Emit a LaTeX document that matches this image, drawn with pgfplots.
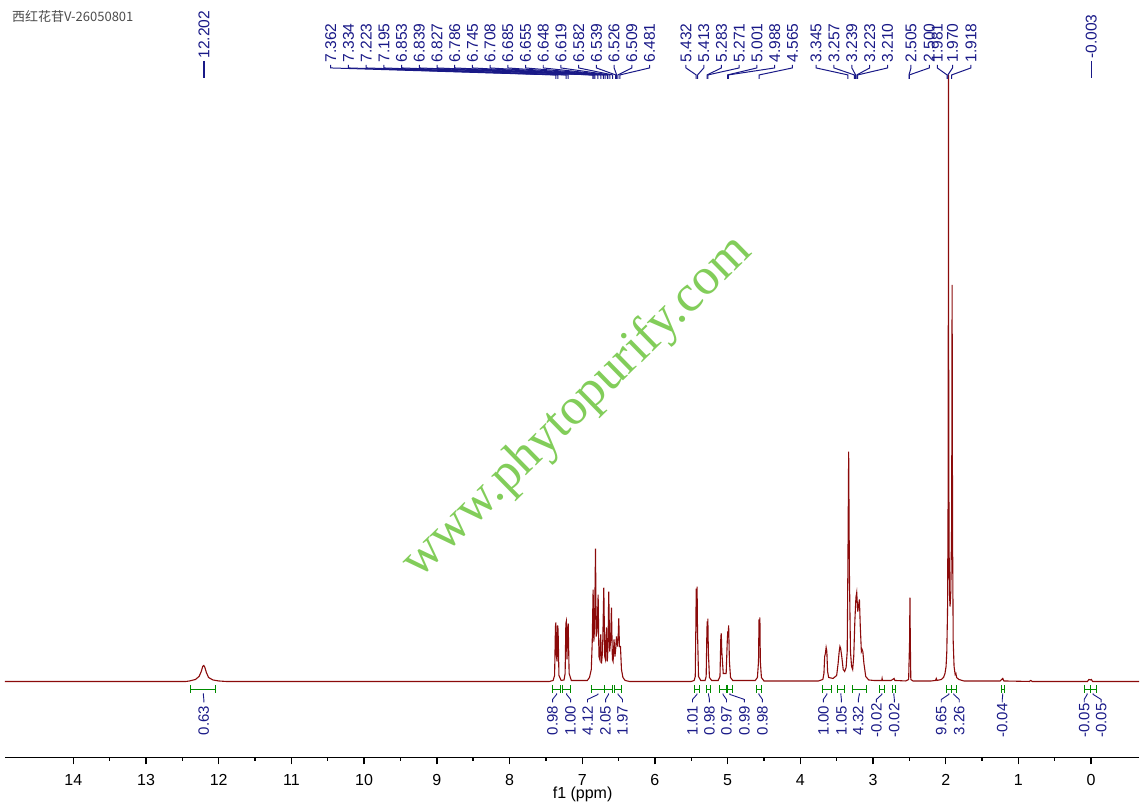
\documentclass[border=0pt]{standalone}
\usepackage{fontspec}
\setmainfont{Liberation Sans}
\newfontfamily\cjk{Noto Sans CJK SC}
\newfontfamily\wmfont{Liberation Serif}
\usepackage{pgfplots}
\pgfplotsset{compat=1.18}
\definecolor{specred}{RGB}{139,10,10}
\definecolor{lblue}{RGB}{25,25,135}
\definecolor{intgreen}{RGB}{0,140,0}
\definecolor{wmgreen}{RGB}{130,205,90}

\begin{document}
\begin{tikzpicture}
\begin{axis}[
  scale only axis, width=567.5pt, height=379pt,
  xmin=-0.66, xmax=14.94, ymin=-76, ymax=682,
  x dir=reverse,
  axis x line*=bottom, axis y line=none,
  xtick={0,1,...,14}, minor x tick num=1,
  tick align=outside, major tick length=3.5pt, minor tick length=1.8pt,
  x axis line style={line width=0.9pt},
  every tick/.style={black, line width=0.7pt},
  xticklabel style={font=\fontsize{8}{9}\selectfont, yshift=-1.5pt},
  /pgf/number format/assume math mode=true,
  clip=false,
]
% watermark
\node[wmgreen, rotate=44.4, font=\wmfont\fontsize{26}{28}\selectfont] at (axis cs:7.064,274) {www.phytopurify.com};

% spectrum
\addplot[specred, line width=0.55pt, mark=none] coordinates {
(14.94,0) (12.45,0) (12.40,0.5) (12.32,2) (12.27,5) (12.24,10) (12.22,15) (12.205,16) (12.19,14) (12.17,9) (12.14,4) (12.08,1.5) (12.0,0.5) (11.9,0)
(7.45,0) (7.40,1) (7.38,6) (7.368,55) (7.362,59) (7.355,25) (7.345,20) (7.338,56) (7.332,52) (7.32,6) (7.29,1)
(7.25,1.5) (7.235,8) (7.225,58) (7.219,60) (7.21,22) (7.20,54) (7.193,58) (7.18,8) (7.15,1)
(6.93,1) (6.90,4) (6.875,12) (6.862,40) (6.850,92) (6.840,40) (6.830,55) (6.817,133) (6.808,45) (6.795,50) (6.781,87)
(6.770,25) (6.758,22) (6.745,47) (6.735,18) (6.720,30) (6.703,94) (6.690,25) (6.680,22) (6.667,54) (6.655,20)
(6.645,35) (6.635,90) (6.622,30) (6.610,40) (6.598,74) (6.585,22) (6.575,20) (6.562,42) (6.550,25) (6.540,32)
(6.529,45) (6.515,35) (6.505,45) (6.497,63) (6.488,35) (6.474,35) (6.46,12) (6.44,4) (6.41,1) (6.35,0)
(5.50,0) (5.46,1) (5.445,5) (5.436,60) (5.432,93) (5.426,55) (5.420,95) (5.414,50) (5.40,5) (5.37,1)
(5.31,1) (5.295,5) (5.285,50) (5.281,60) (5.276,40) (5.272,63) (5.265,30) (5.25,4) (5.22,1)
(5.13,1) (5.105,5) (5.093,45) (5.087,48) (5.08,30) (5.06,8) (5.02,8) (5.005,40) (4.998,50) (4.992,45) (4.986,56) (4.975,20) (4.96,4) (4.93,1)
(4.62,1) (4.59,4) (4.575,20) (4.568,62) (4.562,50) (4.556,64) (4.55,20) (4.535,4) (4.50,0.5)
(3.75,0.5) (3.69,2) (3.675,8) (3.665,25) (3.655,28) (3.645,34) (3.635,30) (3.625,10) (3.61,4) (3.55,3)
(3.50,6) (3.48,18) (3.465,30) (3.455,35) (3.445,33) (3.43,25) (3.41,12) (3.39,10) (3.37,14) (3.355,30)
(3.345,120) (3.335,230) (3.325,110) (3.31,30) (3.295,15) (3.28,12) (3.265,25) (3.25,60) (3.235,84) (3.224,89)
(3.21,70) (3.195,78) (3.187,82) (3.175,55) (3.16,30) (3.15,32) (3.14,30) (3.125,18) (3.10,5) (3.06,1.5) (2.99,1)
(2.95,1) (2.88,1) (2.875,3) (2.87,1) (2.75,1) (2.71,3) (2.70,1) (2.55,0.5) (2.51,2) (2.497,40) (2.492,84) (2.487,40) (2.48,2) (2.45,0.5)
(2.20,0.5) (2.14,1) (2.13,3) (2.12,1) (2.06,2) (2.03,4) (2.01,8) (1.995,15) (1.985,30) (1.975,70) (1.966,200) (1.962,607) (1.958,220)
(1.950,90) (1.940,75) (1.930,90) (1.918,160) (1.912,397) (1.906,150) (1.897,40) (1.885,15) (1.87,7) (1.86,8) (1.85,4) (1.82,2) (1.75,0.5)
(1.25,0.5) (1.215,3) (1.20,0.5) (0.85,0) (0.83,1) (0.81,0) (0.05,0) (0.03,2) (0.01,1.5) (-0.003,2) (-0.02,0) (-0.66,0)
};

% title
\node[anchor=west, gray!60!black, font=\cjk\fontsize{6.5}{7}\selectfont] at (axis cs:14.94,665) {西红花苷V-26050801};

% single peak labels
\foreach \v in {12.202,-0.003}{
  \edef\tmp{\noexpand\draw[lblue, line width=0.6pt] (axis cs:\v,621) -- (axis cs:\v,604);
    \noexpand\node[lblue, rotate=90, anchor=west, inner sep=0pt, font=\noexpand\fontsize{7.8}{8}\noexpand\selectfont] at (axis cs:\v,623) {\v};}
  \tmp
}
% grouped peak labels
\foreach \v/\l in {7.362/10.459, 7.334/10.215, 7.223/9.972, 7.195/9.728, 6.853/9.485, 6.839/9.241, 6.827/8.997,
  6.786/8.754, 6.745/8.510, 6.708/8.267, 6.685/8.023, 6.655/7.779, 6.648/7.536, 6.619/7.292, 6.582/7.049,
  6.539/6.805, 6.526/6.561, 6.509/6.318, 6.481/6.074,
  5.432/5.573, 5.413/5.328, 5.283/5.085, 5.271/4.841, 5.001/4.597, 4.988/4.352, 4.565/4.109,
  3.345/3.783, 3.257/3.537, 3.239/3.291, 3.223/3.045, 3.210/2.799,
  2.505/2.478, 2.500/2.226, 1.981/2.116, 1.970/1.906, 1.918/1.653}{
  \edef\tmp{\noexpand\draw[lblue, line width=0.5pt] (axis cs:\l,617) -- (axis cs:\l,614) -- (axis cs:\v,607) -- (axis cs:\v,603);
    \noexpand\node[lblue, rotate=90, anchor=west, inner sep=0pt, font=\noexpand\fontsize{7.8}{8}\noexpand\selectfont] at (axis cs:\l,619) {\v};}
  \tmp
}
% integrals
\foreach \a/\b/\l/\t in {12.383/12.040/12.205/0.63, 7.408/7.298/7.408/0.98, 7.270/7.160/7.160/1.00,
  6.872/6.693/6.927/4.12, 6.693/6.583/6.679/2.05, 6.556/6.459/6.446/1.97,
  5.456/5.387/5.483/1.01, 5.291/5.236/5.250/0.98, 5.112/5.016/5.016/0.97, 5.002/4.934/4.769/0.99, 4.604/4.535/4.521/0.98,
  3.697/3.573/3.683/1.00, 3.490/3.394/3.435/1.05, 3.284/3.092/3.202/4.32, 2.913/2.844/2.954/-0.02, 2.734/2.693/2.707/-0.02,
  1.992/1.923/2.061/9.65, 1.923/1.855/1.814/3.26, 1.236/1.195/1.222/-0.04, 0.095/0.013/0.095/-0.05, 0.013/-0.070/-0.138/-0.05}{
  \pgfmathsetmacro\m{(\a+\b)/2}
  \edef\tmp{\noexpand\draw[intgreen, line width=0.6pt] (axis cs:\a,-4) -- (axis cs:\a,-12) (axis cs:\a,-8) -- (axis cs:\b,-8) (axis cs:\b,-4) -- (axis cs:\b,-12);
    \noexpand\draw[lblue, line width=0.45pt] (axis cs:\m,-12) -- (axis cs:\m,-13) -- (axis cs:\l,-18) -- (axis cs:\l,-21);
    \noexpand\node[lblue, rotate=90, inner sep=0pt, font=\noexpand\fontsize{7.5}{8}\noexpand\selectfont] at (axis cs:\l,-39) {\t};}
  \tmp
}
% axis label
\node[font=\fontsize{8}{9}\selectfont] at (axis cs:6.995,-76) [yshift=-18.5pt] {f1 (ppm)};
\end{axis}
\path (current axis.south west) ++(-2.5pt,-25pt) rectangle (current axis.north east);
\end{tikzpicture}
\end{document}
